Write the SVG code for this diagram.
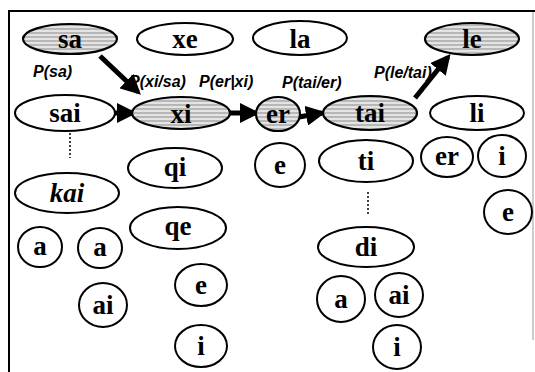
<svg xmlns="http://www.w3.org/2000/svg" width="535" height="372" viewBox="0 0 535 372">
<defs>
<style>
.n{fill:#fff;stroke:#000;stroke-width:2}
.h{fill:url(#hatch);stroke:#000;stroke-width:2.2}
.arr{stroke:#000;stroke-width:5;fill:none;marker-end:url(#ah)}
.dot{stroke:#000;stroke-width:1.5;stroke-dasharray:2 2;fill:none}
</style>
<pattern id="hatch" width="6" height="4" patternUnits="userSpaceOnUse">
<rect width="6" height="4" fill="#e4e4e4"/>
<line x1="0" y1="1" x2="6" y2="1" stroke="#8a8a8a" stroke-width="1"/>
</pattern>
<marker id="ah" markerWidth="4" markerHeight="4" refX="3.2" refY="2" orient="auto" markerUnits="strokeWidth">
<path d="M0,0 L4,2 L0,4 Z" fill="#000"/>
</marker>
</defs>
<g id="frame">
<line x1="8" y1="11" x2="535" y2="11" stroke="#000" stroke-width="2"/>
<line x1="9" y1="10" x2="9" y2="372" stroke="#000" stroke-width="2"/>
<line x1="533" y1="12" x2="533" y2="340" stroke="#999" stroke-width="1"/>
</g>
<g id="connectors">
<line class="arr" x1="100" y1="56" x2="138" y2="92"/>
<line class="arr" x1="115" y1="113" x2="133" y2="113"/>
<line class="arr" x1="230" y1="113" x2="256" y2="113"/>
<line class="arr" x1="299" y1="117" x2="322" y2="113"/>
<line class="arr" x1="415" y1="98" x2="448" y2="57"/>
<line class="dot" x1="70" y1="133" x2="70" y2="158"/>
<line class="dot" x1="368" y1="192" x2="368" y2="216"/>
</g>
<g id="labels" style="font-family:'Liberation Sans',Arial,sans-serif;font-weight:bold;font-style:italic;font-size:16px;fill:#000">
<text x="33" y="77">P(sa)</text>
<text x="129" y="87">P(xi/sa)</text>
<text x="199" y="87">P(er|xi)</text>
<text x="282" y="88">P(tai/er)</text>
<text x="374" y="78">P(le/tai)</text>
</g>
<g id="nodes" style="font-family:'Liberation Serif','Times New Roman',serif;font-weight:bold;font-size:27px;text-anchor:middle;fill:#000">
<g id="n-sa"><ellipse class="h" cx="70" cy="39" rx="47" ry="15"/><text x="70" y="48">sa</text></g>
<g id="n-xe"><ellipse class="n" cx="185" cy="39" rx="48" ry="16"/><text x="185" y="48">xe</text></g>
<g id="n-la"><ellipse class="n" cx="300" cy="38" rx="47" ry="17"/><text x="300" y="48">la</text></g>
<g id="n-le"><ellipse class="h" cx="472" cy="39" rx="47" ry="16"/><text x="472" y="48">le</text></g>
<g id="n-sai"><ellipse class="n" cx="65" cy="113" rx="50" ry="18"/><text x="65" y="122">sai</text></g>
<g id="n-xi"><ellipse class="h" cx="181" cy="113" rx="49" ry="16"/><text x="181" y="123">xi</text></g>
<g id="n-er"><ellipse class="h" cx="278" cy="114" rx="22" ry="17"/><text x="278" y="123">er</text></g>
<g id="n-tai"><ellipse class="h" cx="370" cy="113" rx="47" ry="17"/><text x="370" y="122">tai</text></g>
<g id="n-li"><ellipse class="n" cx="477" cy="113" rx="47" ry="17"/><text x="477" y="122">li</text></g>
<g id="n-kai"><ellipse class="n" cx="67" cy="193" rx="52" ry="20"/><text x="67" y="202" style="font-style:italic">kai</text></g>
<g id="n-qi"><ellipse class="n" cx="175" cy="168" rx="47" ry="20"/><text x="175" y="176">qi</text></g>
<g id="n-qe"><ellipse class="n" cx="178" cy="228" rx="48" ry="21"/><text x="178" y="235">qe</text></g>
<g id="n-a1"><ellipse class="n" cx="40" cy="247" rx="22" ry="20"/><text x="40" y="255">a</text></g>
<g id="n-a2"><ellipse class="n" cx="100" cy="248" rx="22" ry="20"/><text x="100" y="256">a</text></g>
<g id="n-ai1"><ellipse class="n" cx="103" cy="305" rx="24" ry="22"/><text x="103" y="314">ai</text></g>
<g id="n-e1"><ellipse class="n" cx="201" cy="285" rx="26" ry="21"/><text x="201" y="294">e</text></g>
<g id="n-i1"><ellipse class="n" cx="201" cy="346" rx="26" ry="21"/><text x="201" y="355">i</text></g>
<g id="n-e2"><ellipse class="n" cx="280" cy="165" rx="25" ry="22"/><text x="280" y="174">e</text></g>
<g id="n-ti"><ellipse class="n" cx="366" cy="161" rx="47" ry="21"/><text x="366" y="170">ti</text></g>
<g id="n-er2"><ellipse class="n" cx="447" cy="157" rx="26" ry="20"/><text x="447" y="165">er</text></g>
<g id="n-i2"><ellipse class="n" cx="502" cy="156" rx="24" ry="21"/><text x="502" y="165">i</text></g>
<g id="n-e3"><ellipse class="n" cx="508" cy="212" rx="24" ry="22"/><text x="508" y="221">e</text></g>
<g id="n-di"><ellipse class="n" cx="366" cy="247" rx="48" ry="20"/><text x="366" y="256">di</text></g>
<g id="n-a3"><ellipse class="n" cx="341" cy="299" rx="24" ry="23"/><text x="341" y="308">a</text></g>
<g id="n-ai2"><ellipse class="n" cx="399" cy="295" rx="24" ry="22"/><text x="399" y="304">ai</text></g>
<g id="n-i3"><ellipse class="n" cx="397" cy="347" rx="24" ry="22"/><text x="397" y="356">i</text></g>
</g>
</svg>
